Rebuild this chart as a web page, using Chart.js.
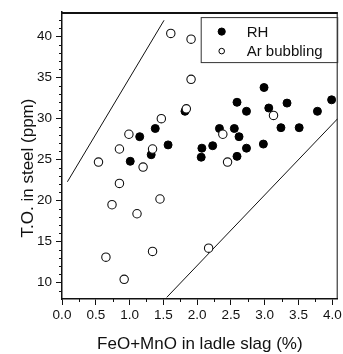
<!DOCTYPE html>
<html>
<head>
<meta charset="utf-8">
<script src="https://cdn.jsdelivr.net/npm/chart.js@4"></script>
<style>
  html, body { margin: 0; padding: 0; background: #fff; }
  #wrap { width: 343px; height: 354px; position: relative; }
</style>
</head>
<body>
<div id="wrap"><canvas id="chart"></canvas></div>
<script>
// RH (filled)
const rhX = [1.15, 1.38, 1.57, 1.01, 1.32, 1.82, 2.07, 2.06, 2.23, 2.33, 2.55, 2.62, 2.73, 2.59, 2.59, 2.73, 2.99, 3.06, 2.98, 3.24, 3.33, 3.51, 3.78, 3.99];
const rhY = [27.8, 28.8, 26.8, 24.8, 25.6, 30.9, 26.4, 25.3, 26.7, 28.8, 28.8, 27.8, 26.4, 25.4, 32.0, 30.9, 33.8, 31.3, 26.9, 28.9, 31.9, 28.9, 30.9, 32.3];
// Ar bubbling (open)
const arX = [1.61, 1.91, 1.91, 1.84, 1.47, 0.99, 0.85, 1.34, 0.54, 1.20, 0.85, 0.74, 1.45, 1.11, 0.65, 1.34, 0.92, 2.38, 2.45, 3.13, 2.17];
const arY = [40.4, 39.7, 34.8, 31.2, 30.0, 28.1, 26.3, 26.3, 24.7, 24.1, 22.1, 19.5, 20.2, 18.4, 13.1, 13.8, 10.4, 28.1, 24.7, 30.4, 14.2];
// boundary lines
const upperX = [0.08, 1.51];
const upperY = [22.3, 42.0];
const lowerX = [1.55, 4.08];
const lowerY = [8.2, 30.0];

const xTicks = [0.0, 0.5, 1.0, 1.5, 2.0, 2.5, 3.0, 3.5, 4.0];
const yTicks = [10, 15, 20, 25, 30, 35, 40];
const xMinor = [0.25, 0.75, 1.25, 1.75, 2.25, 2.75, 3.25, 3.75];
const yMinor = [9, 11, 12, 13, 14, 16, 17, 18, 19, 21, 22, 23, 24, 26, 27, 28, 29, 31, 32, 33, 34, 36, 37, 38, 39, 41, 42];

const xTitle = "FeO+MnO in ladle slag (%)";
const yTitle = "T.O. in steel (ppm)";

function pts(xs, ys) {
  return xs.map((x, i) => ({ x: x, y: ys[i] }));
}

const FONT = "'Liberation Sans', Arial, sans-serif";

// minor ticks, frame, axis titles and the boxed legend
const extras = {
  id: "extras",
  afterDraw(chart) {
    const ctx = chart.ctx;
    const a = chart.chartArea;
    const xs = chart.scales.x, ys = chart.scales.y;
    ctx.save();
    ctx.strokeStyle = "#111";
    ctx.lineWidth = 1;
    ctx.beginPath();
    xMinor.forEach(v => {
      const p = Math.round(xs.getPixelForValue(v)) + 0.5;
      ctx.moveTo(p, a.bottom); ctx.lineTo(p, a.bottom + 3);
    });
    yMinor.forEach(v => {
      const p = Math.round(ys.getPixelForValue(v)) + 0.5;
      ctx.moveTo(a.left, p); ctx.lineTo(a.left - 3, p);
    });
    ctx.stroke();

    // frame: right side and thick top
    ctx.beginPath();
    ctx.moveTo(a.right - 0.5, a.top); ctx.lineTo(a.right - 0.5, a.bottom);
    ctx.stroke();
    ctx.lineWidth = 2;
    ctx.beginPath();
    ctx.moveTo(a.left, a.top + 1); ctx.lineTo(a.right, a.top + 1);
    ctx.stroke();

    // titles
    ctx.fillStyle = "#111";
    ctx.font = "17px " + FONT;
    ctx.textAlign = "center";
    ctx.textBaseline = "middle";
    ctx.fillText(xTitle, (a.left + a.right) / 2, 344);
    ctx.save();
    ctx.translate(28, 168);
    ctx.rotate(-Math.PI / 2);
    ctx.fillText(yTitle, 0, 0);
    ctx.restore();

    // legend
    const bx = a.right - 137, by = a.top + 5.5, bw = 136.5, bh = 45;
    ctx.lineWidth = 1;
    ctx.strokeStyle = "#333";
    ctx.strokeRect(bx + 0.5, by, bw, bh);
    const sets = [chart.data.datasets[0], chart.data.datasets[1]];
    ctx.font = "15px " + FONT;
    ctx.textAlign = "left";
    sets.forEach((ds, i) => {
      const cy = by + 14 + i * 19.5;
      ctx.beginPath();
      ctx.arc(bx + 21, cy, i === 0 ? 3.6 : 2.8, 0, Math.PI * 2);
      ctx.fillStyle = ds.backgroundColor;
      ctx.fill();
      ctx.lineWidth = 1;
      ctx.strokeStyle = "#000";
      ctx.stroke();
      ctx.fillStyle = "#111";
      ctx.fillText(ds.label, bx + 46, cy + 1);
    });
    ctx.restore();
  }
};

new Chart(document.getElementById("chart"), {
  type: "scatter",
  data: {
    datasets: [
      {
        label: "RH",
        data: pts(rhX, rhY),
        backgroundColor: "#000",
        borderColor: "#000",
        borderWidth: 1,
        pointRadius: 4,
        order: 1
      },
      {
        label: "Ar bubbling",
        data: pts(arX, arY),
        backgroundColor: "#fff",
        borderColor: "#111",
        borderWidth: 1.1,
        pointRadius: 4.2,
        order: 0
      },
      {
        label: "upper",
        data: pts(upperX, upperY),
        showLine: true,
        borderColor: "#111",
        borderWidth: 1,
        pointRadius: 0,
        order: 2
      },
      {
        label: "lower",
        data: pts(lowerX, lowerY),
        showLine: true,
        borderColor: "#111",
        borderWidth: 1,
        pointRadius: 0,
        order: 2
      }
    ]
  },
  options: {
    responsive: true,
    maintainAspectRatio: false,
    animation: false,
    layout: { padding: { top: 9, right: 1, left: 0, bottom: 0 } },
    plugins: {
      legend: { display: false },
      tooltip: { enabled: false }
    },
    scales: {
      x: {
        type: "linear",
        min: 0,
        max: 4.08,
        afterBuildTicks: (s) => { s.ticks = xTicks.map(v => ({ value: v })); },
        afterFit: (s) => { s.height = 55; s.paddingLeft = 0; s.paddingRight = 0; },
        grid: { drawOnChartArea: false, tickLength: 6, color: "#111", tickWidth: 1 },
        border: { color: "#111", width: 1.5 },
        ticks: {
          color: "#111",
          padding: 2,
          maxRotation: 0,
          autoSkip: false,
          font: { family: FONT, size: 13.5 },
          callback: (v) => v.toFixed(1)
        }
      },
      y: {
        min: 8,
        max: 43,
        afterBuildTicks: (s) => { s.ticks = yTicks.map(v => ({ value: v })); },
        afterFit: (s) => { s.width = 62; },
        grid: { drawOnChartArea: false, tickLength: 6, color: "#111", tickWidth: 1 },
        border: { color: "#111", width: 1.5 },
        ticks: {
          color: "#111",
          padding: 4,
          autoSkip: false,
          font: { family: FONT, size: 13.5 }
        }
      }
    }
  },
  plugins: [extras]
});
</script>
</body>
</html>
